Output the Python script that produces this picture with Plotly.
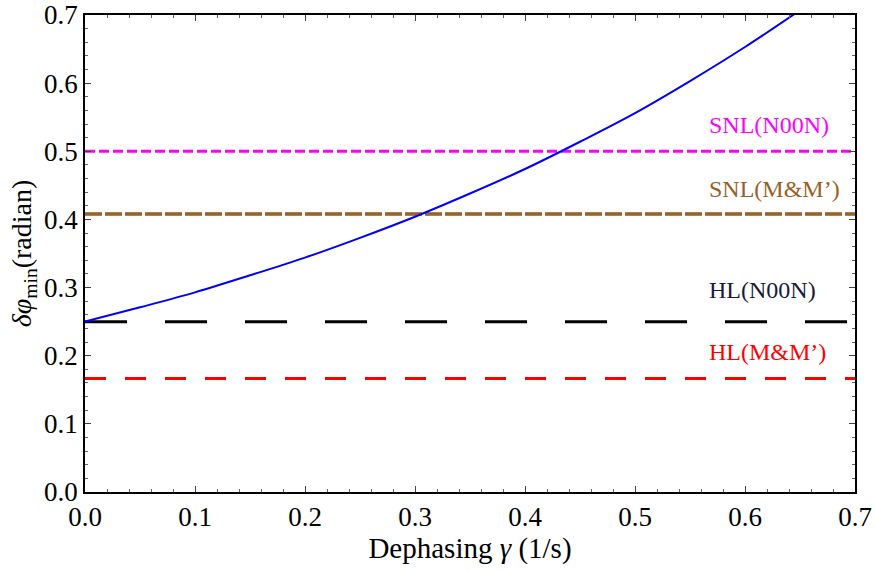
import plotly.graph_objects as go

# Blue curve: minimum phase uncertainty vs dephasing
gamma = [0.0, 0.05, 0.10, 0.15, 0.20, 0.25, 0.30, 0.35, 0.40, 0.45, 0.50, 0.55, 0.60, 0.65]
dphi = [0.250, 0.271, 0.293, 0.318, 0.344, 0.373, 0.404, 0.438, 0.474, 0.514, 0.556, 0.603, 0.653, 0.707]

# Horizontal reference limits
x_span = [0.0, 0.7]
snl_n00n = 0.5
snl_mm = 0.408
hl_n00n = 0.25
hl_mm = 0.1667

labels = ["SNL(N00N)", "SNL(M&amp;M’)", "HL(N00N)", "HL(M&amp;M’)"]
label_y = [0.538, 0.445, 0.296, 0.205]
label_colors = ["#ff00ff", "#9a5f28", "#1a1a3a", "#ff0000"]

x_ticks = [0.0, 0.1, 0.2, 0.3, 0.4, 0.5, 0.6, 0.7]
y_ticks = [0.0, 0.1, 0.2, 0.3, 0.4, 0.5, 0.6, 0.7]

SERIF = "Liberation Serif"

fig = go.Figure()

fig.add_trace(go.Scatter(x=x_span, y=[snl_n00n] * 2, mode="lines",
                         line=dict(color="#ff00ff", width=3, dash="10px,4px"), hoverinfo="skip"))
fig.add_trace(go.Scatter(x=x_span, y=[snl_mm] * 2, mode="lines",
                         line=dict(color="#b08048", width=4, dash="17px,3px"), hoverinfo="skip"))
fig.add_trace(go.Scatter(x=x_span, y=[snl_mm] * 2, mode="lines",
                         line=dict(color="#7a4a1e", width=1, dash="17px,3px"), hoverinfo="skip"))
fig.add_trace(go.Scatter(x=x_span, y=[hl_n00n] * 2, mode="lines",
                         line=dict(color="#000000", width=3, dash="42px,38px"), hoverinfo="skip"))
fig.add_trace(go.Scatter(x=x_span, y=[hl_mm] * 2, mode="lines",
                         line=dict(color="#ff0000", width=3, dash="21px,19px"), hoverinfo="skip"))
fig.add_trace(go.Scatter(x=gamma, y=dphi, mode="lines", line=dict(color="#0000ff", width=2, shape="spline")))

for t, yy, c in zip(labels, label_y, label_colors):
    fig.add_annotation(x=0.565, y=yy, xref="x", yref="y", text=t, showarrow=False,
                       xanchor="left", yanchor="middle",
                       font=dict(family=SERIF, size=24, color=c))

axis_common = dict(
    showgrid=False, zeroline=False, showline=True, linecolor="black", linewidth=1.5,
    mirror="allticks", ticks="inside", ticklen=6, tickwidth=1, tickcolor="#444",
    tickfont=dict(family=SERIF, size=27, color="black"),
    tickformat=".1f", automargin=False, ticklabeloverflow="allow",
    minor=dict(ticks="inside", ticklen=3, tickwidth=1, tickcolor="#666", dtick=0.02),
)

fig.update_xaxes(range=[0, 0.7], tickvals=x_ticks, **axis_common,
                 title=dict(text="Dephasing <i>γ</i> (1/s)",
                            font=dict(family=SERIF, size=29, color="black"), standoff=6))
fig.update_yaxes(range=[0, 0.7], tickvals=y_ticks, **axis_common,
                 title=dict(text="<i>δφ</i><sub>min</sub>(radian)",
                            font=dict(family=SERIF, size=28, color="black"), standoff=4))

fig.update_layout(
    width=875, height=572, showlegend=False,
    margin=dict(l=85, r=20, t=15, b=80),
    plot_bgcolor="white", paper_bgcolor="white",
)

fig.write_html("out.html")
